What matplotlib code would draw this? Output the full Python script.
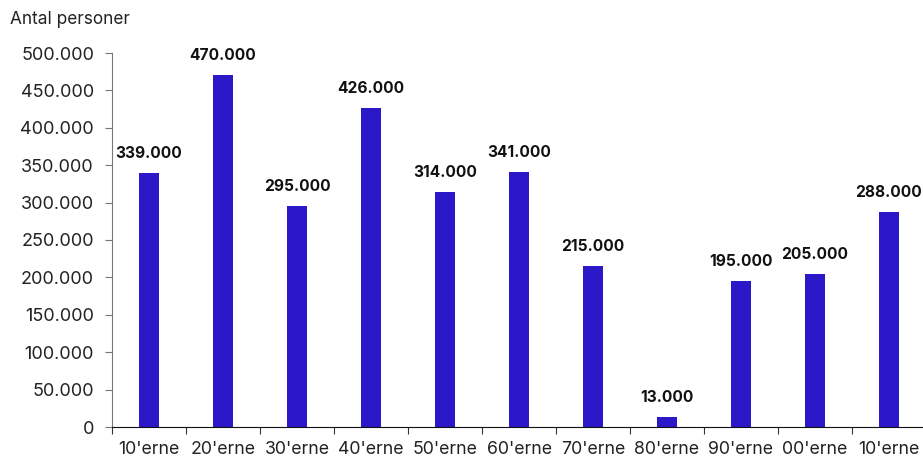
import numpy as np
import matplotlib.pyplot as plt

decades = ["10'erne", "20'erne", "30'erne", "40'erne", "50'erne", "60'erne",
           "70'erne", "80'erne", "90'erne", "00'erne", "10'erne"]
persons = [339000, 470000, 295000, 426000, 314000, 341000,
           215000, 13000, 195000, 205000, 288000]
yticks = np.arange(0, 500001, 50000)


def fmt(v):
    return f"{v:,}".replace(",", ".")


def main():
    plt.rcParams['font.family'] = ['Inter', 'DejaVu Sans']
    fig = plt.figure(figsize=(9.23, 4.59), dpi=100)
    ax = fig.add_axes([112 / 923, 1 - 427 / 459, 814 / 923, 374 / 459])

    x = np.arange(len(decades))
    bars = ax.bar(x, persons, width=0.26, color='#2b18c9')
    for b, v in zip(bars, persons):
        ax.text(b.get_x() + b.get_width() / 2, v + 16000, fmt(v),
                ha='center', va='bottom', fontsize=11.2, fontweight='bold',
                color='#111111')

    ax.set_xlim(-0.5, len(decades) - 0.5)
    ax.set_ylim(0, 500000)
    ax.set_yticks(yticks)
    ax.set_yticklabels([fmt(v) for v in yticks])

    # ticks at category boundaries, labels at centres
    ax.set_xticks(np.arange(len(decades) + 1) - 0.5)
    ax.set_xticklabels([])
    ax.set_xticks(x, minor=True)
    ax.set_xticklabels(decades, minor=True)
    ax.tick_params(axis='x', which='minor', length=0, pad=10)
    ax.tick_params(axis='x', which='major', length=5, color='#333333')
    ax.tick_params(axis='y', length=5, color='#777777', pad=8)
    ax.tick_params(labelsize=13, labelcolor='#222222')
    ax.tick_params(axis='x', which='minor', labelsize=12.8, labelcolor='#222222')

    ax.spines['top'].set_visible(False)
    ax.spines['right'].set_visible(False)
    ax.spines['left'].set_color('#777777')
    ax.spines['bottom'].set_color('#111111')

    fig.text(10 / 923, 1 - 20 / 459, 'Antal personer', fontsize=12.4,
             color='#222222', va='center', ha='left')

    fig.savefig('out.png', dpi=100)


if __name__ == "__main__":
    main()
